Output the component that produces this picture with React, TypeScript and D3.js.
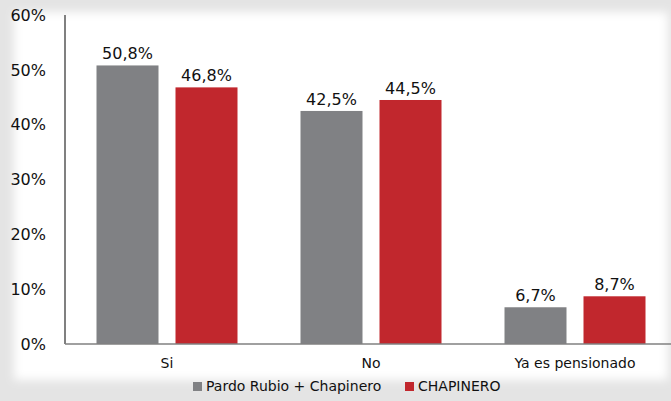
import React from "react";
import * as d3 from "d3";

const categories = ["Si", "No", "Ya es pensionado"];
const seriesNames = ["Pardo Rubio + Chapinero", "CHAPINERO"];
const seriesA = [50.8, 42.5, 6.7];
const seriesB = [46.8, 44.5, 8.7];
const yTicks = [0, 10, 20, 30, 40, 50, 60];
const colors = ["#808184", "#C1272D"];

const W = 671;
const H = 401;
const FONT = "'DejaVu Sans', Verdana, sans-serif";

export default function App() {
  const x0 = 65;
  const x1 = 677;
  const yBottom = 344;
  const yTop = 15;
  const y = d3.scaleLinear().domain([0, 60]).range([yBottom, yTop]);
  const xBand = d3.scaleBand<string>().domain(categories).range([x0, x1]).paddingInner(0).paddingOuter(0);
  const inner = d3.scaleBand<number>().domain([0, 1]).range([0, 141]).paddingInner(17 / 79);
  const groupOffset = (xBand.bandwidth() - 141) / 2;
  const series = [seriesA, seriesB];
  const fmt = (v: number) => v.toFixed(1).replace(".", ",") + "%";

  return (
    <svg width={W} height={H} style={{ position: "absolute", left: 0, top: 0, display: "block" }}>
      <defs>
        <filter id="blur" x="-10%" y="-10%" width="120%" height="120%">
          <feGaussianBlur stdDeviation="5" />
        </filter>
      </defs>
      <rect x={0} y={0} width={W} height={H} fill="#e4e4e4" />
      <rect x={14} y={12} width={W - 17} height={368} fill="#ffffff" filter="url(#blur)" />
      {yTicks.map((t) => (
        <text key={t} x={46} y={y(t)} dy="0.36em" textAnchor="end" fontFamily={FONT} fontSize={16} fill="#111">
          {t}%
        </text>
      ))}
      {categories.map((c, i) => (
        <g key={c}>
          {series.map((s, j) => {
            const bx = (xBand(c) as number) + groupOffset + (inner(j) as number);
            const bw = inner.bandwidth();
            return (
              <g key={j}>
                <rect x={bx} y={y(s[i])} width={bw} height={yBottom - y(s[i])} fill={colors[j]} />
                <text x={bx + bw / 2} y={y(s[i]) - 6} textAnchor="middle" fontFamily={FONT} fontSize={16} fill="#111">
                  {fmt(s[i])}
                </text>
              </g>
            );
          })}
          <text x={(xBand(c) as number) + xBand.bandwidth() / 2} y={368} textAnchor="middle" fontFamily={FONT} fontSize={14} fill="#111">
            {c}
          </text>
        </g>
      ))}
      <line x1={x0} x2={W} y1={yBottom} y2={yBottom} stroke="#808080" strokeWidth={1.5} />
      <line x1={x0} x2={x0} y1={yTop} y2={yBottom} stroke="#808080" strokeWidth={2} />
      <g>
        <rect x={193} y={382} width={9} height={9} fill={colors[0]} />
        <text x={206} y={391} fontFamily={FONT} fontSize={14} fill="#111">{seriesNames[0]}</text>
        <rect x={405} y={382} width={9} height={9} fill={colors[1]} />
        <text x={418} y={391} fontFamily={FONT} fontSize={14} fill="#111">{seriesNames[1]}</text>
      </g>
    </svg>
  );
}
